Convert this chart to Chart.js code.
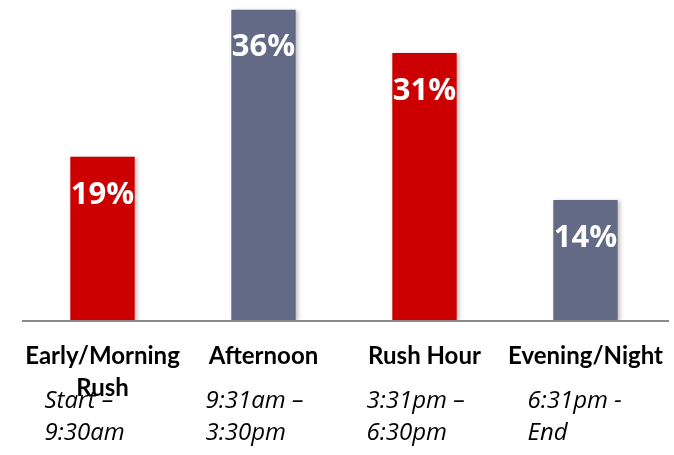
<!DOCTYPE html>
<html>
<head>
<meta charset="utf-8">
<script src="https://cdn.jsdelivr.net/npm/chart.js@4.4.1/dist/chart.umd.min.js"></script>
<style>
  html, body { margin: 0; padding: 0; background: #fff; }
  #wrap { position: relative; width: 674px; height: 455px; }
</style>
</head>
<body>
<div id="wrap"><canvas id="chart"></canvas></div>
<script>
// chart data
const categories = ['Early/Morning Rush', 'Afternoon', 'Rush Hour', 'Evening/Night'];
const shares = [19, 36, 31, 14];
const barColors = ['#cc0000', '#636a86', '#cc0000', '#636a86'];

// label table under the axis
const periodTitles = [['Early/Morning', 'Rush'], ['Afternoon'], ['Rush Hour'], ['Evening/Night']];
const periodTimes = [['Start \u2013', '9:30am'], ['9:31am \u2013', '3:30pm'], ['3:31pm \u2013', '6:30pm'], ['6:31pm -', 'End']];

// white value labels inside the top of each bar
const valueLabels = {
  id: 'valueLabels',
  afterDatasetsDraw(chart) {
    const ctx = chart.ctx;
    const meta = chart.getDatasetMeta(0);
    ctx.save();
    ctx.fillStyle = '#ffffff';
    ctx.font = 'bold 31px "Open Sans"';
    ctx.textAlign = 'center';
    ctx.textBaseline = 'middle';
    meta.data.forEach((bar, i) => {
      ctx.fillText(shares[i] + '%', bar.x, bar.y + 38);
    });
    ctx.restore();
  }
};

// bar shadow
const barShadow = {
  id: 'barShadow',
  beforeDatasetsDraw(chart) {
    const ctx = chart.ctx;
    ctx.save();
    ctx.shadowColor = 'rgba(0,0,0,0.25)';
    ctx.shadowBlur = 4;
    ctx.shadowOffsetX = 2;
    ctx.shadowOffsetY = 1;
  },
  afterDatasetsDraw(chart) {
    chart.ctx.restore();
  }
};

// axis line and the period table below it
const periodTable = {
  id: 'periodTable',
  afterDraw(chart) {
    const ctx = chart.ctx;
    const area = chart.chartArea;
    const xs = chart.scales.x;
    ctx.save();
    ctx.strokeStyle = '#8a8a8a';
    ctx.lineWidth = 2;
    ctx.beginPath();
    ctx.moveTo(area.left, area.bottom);
    ctx.lineTo(chart.width - 5, area.bottom);
    ctx.stroke();

    ctx.fillStyle = '#000000';
    ctx.textBaseline = 'middle';
    periodTimes.forEach((lines, i) => {
      ctx.font = 'italic 24px "Open Sans"';
      ctx.textAlign = 'left';
      const lx = xs.getPixelForValue(i) - 58;
      lines.forEach((t, j) => ctx.fillText(t, lx, area.bottom + 80 + j * 32));
    });
    periodTitles.forEach((lines, i) => {
      ctx.font = 'bold 24px Lato';
      ctx.textAlign = 'center';
      const cx = xs.getPixelForValue(i);
      lines.forEach((t, j) => ctx.fillText(t, cx, area.bottom + 35 + j * 32));
    });
    ctx.restore();
  }
};

new Chart(document.getElementById('chart'), {
  type: 'bar',
  data: {
    labels: categories,
    datasets: [{
      data: shares,
      backgroundColor: barColors,
      borderWidth: 0,
      categoryPercentage: 1,
      barPercentage: 0.4
    }]
  },
  options: {
    responsive: true,
    maintainAspectRatio: false,
    animation: false,
    layout: { padding: { left: 22, right: 8, top: 1, bottom: 134 } },
    plugins: {
      legend: { display: false },
      tooltip: { enabled: false }
    },
    scales: {
      x: {
        display: false,
        grid: { display: false }
      },
      y: {
        display: false,
        min: 0,
        max: 37,
        grid: { display: false }
      }
    }
  },
  plugins: [barShadow, valueLabels, periodTable]
});
</script>
</body>
</html>
